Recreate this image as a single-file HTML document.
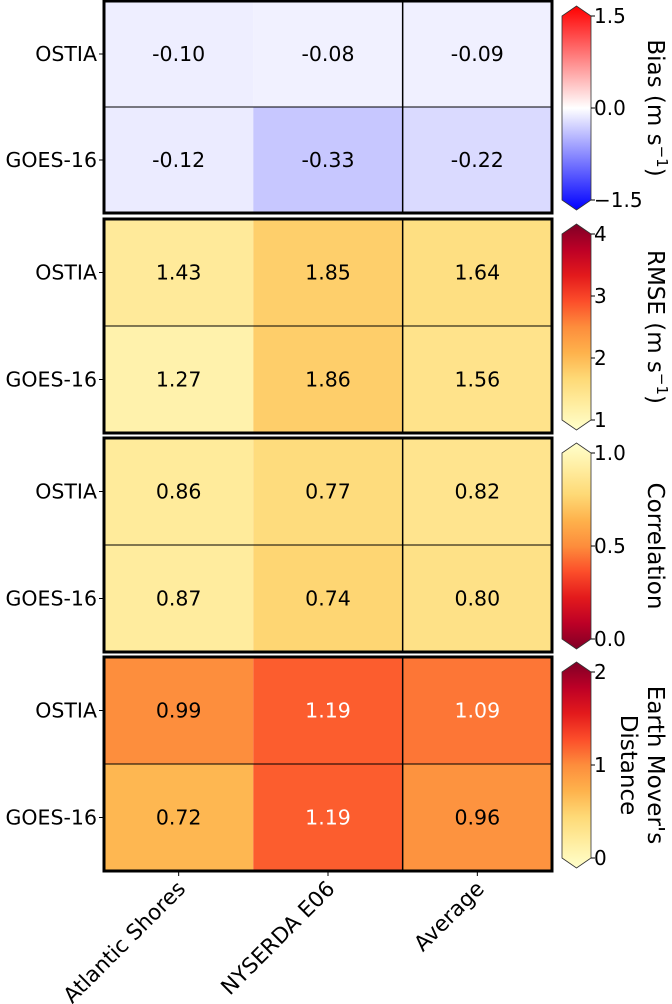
<!DOCTYPE html>
<html><head><meta charset="utf-8"><style>
body{margin:0;background:#fff;}
svg{display:block;font-family:"DejaVu Sans","Liberation Sans",sans-serif;}
</style></head><body>
<svg id="chart" width="672" height="1004" viewBox="0 0 672 1004" xmlns="http://www.w3.org/2000/svg">
<defs>
<linearGradient id="g-bwr" x1="0" y1="1" x2="0" y2="0"><stop offset="0" stop-color="#0000ff"/><stop offset="0.5" stop-color="#ffffff"/><stop offset="1" stop-color="#ff0000"/></linearGradient>
<linearGradient id="g-ylorrd" x1="0" y1="1" x2="0" y2="0">
<stop offset="0" stop-color="#ffffcc"/><stop offset="0.125" stop-color="#ffeda0"/><stop offset="0.25" stop-color="#fed976"/><stop offset="0.375" stop-color="#feb24c"/><stop offset="0.5" stop-color="#fd8d3c"/><stop offset="0.625" stop-color="#fc4e2a"/><stop offset="0.75" stop-color="#e31a1c"/><stop offset="0.875" stop-color="#bd0026"/><stop offset="1" stop-color="#800026"/></linearGradient>
<linearGradient id="g-ylorrd-r" x1="0" y1="0" x2="0" y2="1">
<stop offset="0" stop-color="#ffffcc"/><stop offset="0.125" stop-color="#ffeda0"/><stop offset="0.25" stop-color="#fed976"/><stop offset="0.375" stop-color="#feb24c"/><stop offset="0.5" stop-color="#fd8d3c"/><stop offset="0.625" stop-color="#fc4e2a"/><stop offset="0.75" stop-color="#e31a1c"/><stop offset="0.875" stop-color="#bd0026"/><stop offset="1" stop-color="#800026"/></linearGradient>
</defs>
</svg>
<script>
const columns = ["Atlantic Shores", "NYSERDA E06", "Average"];
const rows = ["OSTIA", "GOES-16"];
const biasValues = [[-0.10, -0.08, -0.09], [-0.12, -0.33, -0.22]];
const rmseValues = [[1.43, 1.85, 1.64], [1.27, 1.86, 1.56]];
const corrValues = [[0.86, 0.77, 0.82], [0.87, 0.74, 0.80]];
const emdValues = [[0.99, 1.19, 1.09], [0.72, 1.19, 0.96]];
const biasTicks = ["1.5", "0.0", "\u22121.5"];
const rmseTicks = ["4", "3", "2", "1"];
const corrTicks = ["1.0", "0.5", "0.0"];
const emdTicks = ["2", "1", "0"];

const NS = "http://www.w3.org/2000/svg";
const svg = document.getElementById("chart");
function mk(tag, attrs, parent, text) {
  const e = document.createElementNS(NS, tag);
  for (const k in attrs) e.setAttribute(k, attrs[k]);
  if (text !== undefined) e.textContent = text;
  (parent || svg).appendChild(e);
  return e;
}
function hex(h){return [parseInt(h.slice(1,3),16),parseInt(h.slice(3,5),16),parseInt(h.slice(5,7),16)];}
function interp(stops, t) {
  t = Math.max(0, Math.min(1, t));
  const n = stops.length - 1, i = Math.min(n - 1, Math.floor(t * n)), f = t * n - i;
  const a = hex(stops[i]), b = hex(stops[i + 1]);
  return "rgb(" + a.map((v, k) => Math.round(v + (b[k] - v) * f)).join(",") + ")";
}
const YLORRD = ["#ffffcc","#ffeda0","#fed976","#feb24c","#fd8d3c","#fc4e2a","#e31a1c","#bd0026","#800026"];
const BWR = ["#0000ff","#ffffff","#ff0000"];

const X0 = 104, X1 = 552;
const colW = (X1 - X0) / columns.length;
const xCol = i => X0 + i * colW;

const panels = [
  {name: "bias", vals: biasValues, top: 1, bot: 213, cmap: v => interp(BWR, (v + 1.5) / 3), grad: "g-bwr", ticks: biasTicks, tickVals: [1.5, 0, -1.5], vmin: -1.5, vmax: 1.5, label: ["Bias (m s"], sup: true},
  {name: "rmse", vals: rmseValues, top: 219, bot: 433, cmap: v => interp(YLORRD, (v - 1) / 3), grad: "g-ylorrd", ticks: rmseTicks, tickVals: [4, 3, 2, 1], vmin: 1, vmax: 4, label: ["RMSE (m s"], sup: true},
  {name: "correlation", vals: corrValues, top: 438, bot: 652, cmap: v => interp(YLORRD, 1 - v), grad: "g-ylorrd-r", ticks: corrTicks, tickVals: [1, 0.5, 0], vmin: 0, vmax: 1, label: ["Correlation"], sup: false},
  {name: "emd", vals: emdValues, top: 657, bot: 871, cmap: v => interp(YLORRD, v / 2), grad: "g-ylorrd", ticks: emdTicks, tickVals: [2, 1, 0], vmin: 0, vmax: 2, label: ["Earth Mover's", "Distance"], sup: false}
];

panels.forEach((p) => {
  const g = mk("g", {});
  
  
  const rowH = (p.bot - p.top) / rows.length;
  p.vals.forEach((row, r) => {
    row.forEach((v, c) => {
      const cell = mk("rect", {x: xCol(c), y: p.top + r * rowH, width: colW, height: rowH, fill: p.cmap(v)}, g);
      
      
      const lum = p.name === "emd" && v > 1.05;
      const t = mk("text", {x: xCol(c) + colW / 2, y: p.top + (r + 0.5) * rowH + 7, "text-anchor": "middle", "font-size": "20.5", fill: lum ? "#fff" : "#000"}, g, v.toFixed(2));
      
      
    });
    const rl = mk("text", {x: 97, y: p.top + (r + 0.5) * rowH + 7, "text-anchor": "end", "font-size": "20.5"}, g, rows[r]);
    
    
    mk("line", {x1: 99, x2: 104, y1: p.top + (r + 0.5) * rowH, y2: p.top + (r + 0.5) * rowH, stroke: "#000", "stroke-width": 1}, g);
  });
  mk("line", {x1: X0, x2: X1, y1: p.top + rowH, y2: p.top + rowH, stroke: "#000", "stroke-width": 1}, g);
  mk("line", {x1: xCol(2), x2: xCol(2), y1: p.top, y2: p.bot, stroke: "#000", "stroke-width": 1.5}, g);
  mk("rect", {x: X0, y: p.top, width: X1 - X0, height: p.bot - p.top, fill: "none", stroke: "#000", "stroke-width": 3}, g);

  const cb = mk("g", {});
  
  
  const bx = 562, bw = 29, by0 = p.top + 15, by1 = p.bot - 13;
  const tipT = by0 - 10, tipB = by1 + 10;
  mk("path", {d: `M${bx},${by0} L${bx + bw / 2},${tipT} L${bx + bw},${by0} L${bx + bw},${by1} L${bx + bw / 2},${tipB} L${bx},${by1} Z`, fill: "url(#" + p.grad + ")", stroke: "#333", "stroke-width": 0.8}, cb);
  const yv = v => by1 - (v - p.vmin) / (p.vmax - p.vmin) * (by1 - by0);
  p.tickVals.forEach((tv, i) => {
    mk("line", {x1: bx + bw, x2: bx + bw + 4, y1: yv(tv), y2: yv(tv), stroke: "#000"}, cb);
    const tl = mk("text", {x: bx + bw + 3, y: yv(tv) + 7, "font-size": "20"}, cb, p.ticks[i]);
    
    
  });
  const cy = (by0 + by1) / 2;
  p.label.forEach((ln, i) => {
    const lx = 648 - i * 27;
    const lt = mk("text", {x: lx, y: cy, "text-anchor": "middle", "font-size": "23", transform: `rotate(90 ${lx} ${cy})`}, cb, ln);
    if (p.sup) {
      const s = mk("tspan", {"baseline-shift": "super", "font-size": "15"}, lt, "\u22121");
      mk("tspan", {}, lt, ")");
    }
    
    
  });
});

columns.forEach((c, i) => {
  const cx = xCol(i) + colW / 2;
  mk("line", {x1: cx, x2: cx, y1: 871, y2: 876, stroke: "#000"});
  const t = mk("text", {x: cx + 8, y: 890, "text-anchor": "end", "font-size": "21.5", transform: `rotate(-45 ${cx + 8} 890)`}, undefined, c);
  
  
});
</script>
</body></html>
